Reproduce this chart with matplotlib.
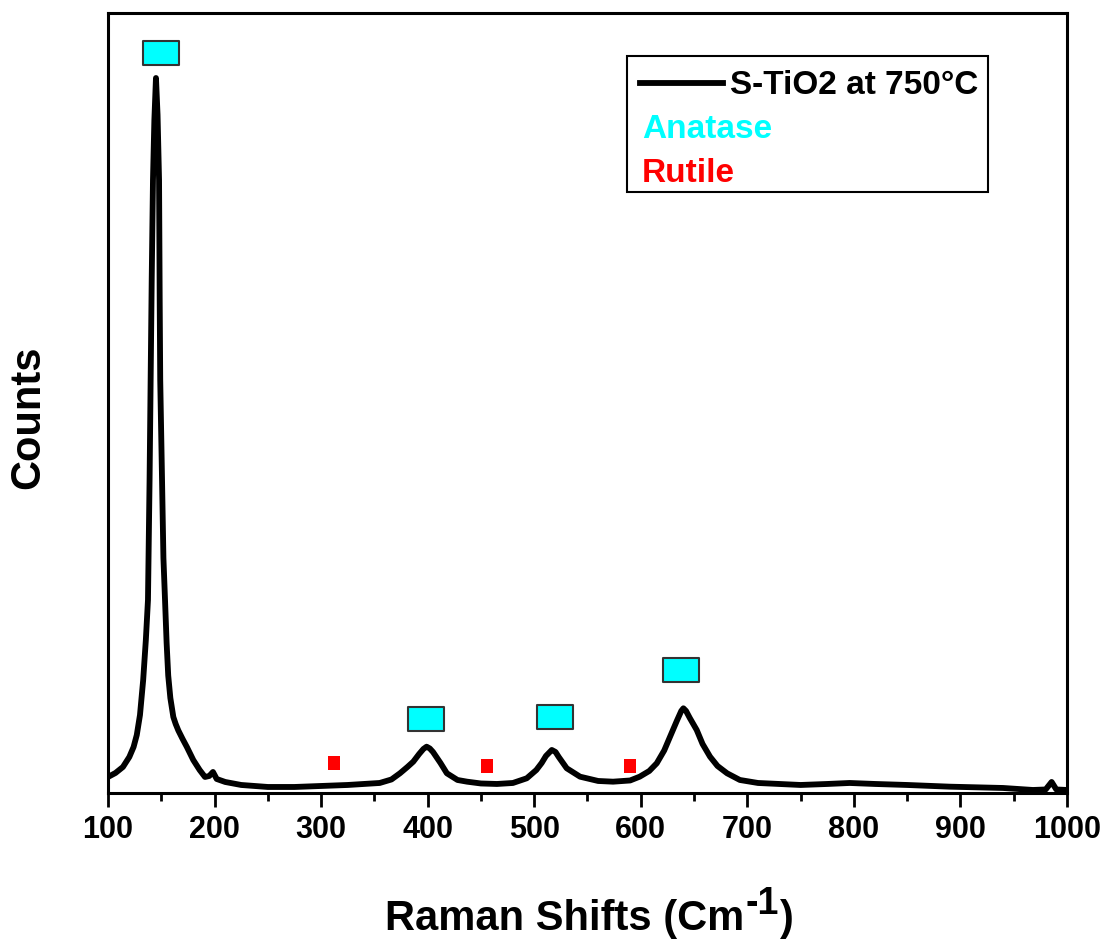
import numpy as np
import matplotlib
matplotlib.use("Agg")
import matplotlib.pyplot as plt
from matplotlib.path import Path
from matplotlib.patches import Rectangle
from matplotlib.ticker import MultipleLocator

plt.rcParams['font.family'] = ['Liberation Sans', 'DejaVu Sans']
plt.rcParams['font.weight'] = 'bold'

# Raman spectrum
shift = [100, 107, 114, 120, 124, 127, 130, 133, 135.5, 137.5, 139, 140, 141, 142.2,
         143.5, 145, 146.5, 147.9, 148.5, 149, 150.7, 152, 153.5, 155, 156.5, 158.5,
         161.3, 163.5, 166, 170, 174, 180, 186, 191, 195, 198.5, 202, 210, 225, 250,
         275, 300, 325, 355, 366, 374, 381, 386.5, 392, 396, 399, 402, 405, 412, 418,
         428, 437, 450, 465, 480, 493, 502, 507, 511, 516.5, 520, 523, 530.5, 543, 560,
         574, 590, 599, 608, 615, 622, 627.5, 634, 638, 640, 642.5, 646, 652.5, 658,
         665, 672, 681, 693, 710, 730, 750, 775, 796, 820, 850, 890, 940, 968, 980,
         985.6, 990, 1000]
counts = [320, 400, 520, 720, 920, 1160, 1560, 2260, 3060, 3860, 6260, 8260, 10260, 12260,
          13460, 14300, 13560, 12260, 9860, 8260, 6260, 4700, 3860, 3000, 2350, 1900,
          1520, 1380, 1250, 1080, 920, 660, 460, 320, 340, 420, 280, 220, 160, 120,
          120, 140, 160, 200, 270, 394, 520, 626, 780, 880, 926, 890, 820, 600, 394,
          260, 226, 190, 180, 200, 294, 460, 600, 740, 860, 820, 720, 494, 326, 240,
          226, 250, 326, 440, 594, 850, 1126, 1450, 1640, 1694, 1640, 1500, 1260, 980,
          726, 540, 394, 260, 200, 180, 160, 180, 200, 180, 160, 126, 100, 60, 70,
          220, 70, 60]

# phase markers
anatase_x = [149.7, 398.6, 519.2, 637.9]
anatase_y = [14800, 1480, 1526, 2460]
rutile_x = [312.3, 456.1, 589.7]
rutile_y = [594, 544, 544]

fig = plt.figure(figsize=(11.09, 9.42), dpi=100)
ax = fig.add_axes([0.0974, 0.1582, 0.8647, 0.828])

ax.plot(shift, counts, color='black', lw=4.2, solid_joinstyle='round', solid_capstyle='round')

rect_marker = Path([(-1, -0.7), (1, -0.7), (1, 0.7), (-1, 0.7), (-1, -0.7)],
                   [Path.MOVETO, Path.LINETO, Path.LINETO, Path.LINETO, Path.CLOSEPOLY])
red_marker = Path([(-0.8, -1), (0.8, -1), (0.8, 1), (-0.8, 1), (-0.8, -1)],
                  [Path.MOVETO, Path.LINETO, Path.LINETO, Path.LINETO, Path.CLOSEPOLY])
ax.plot(anatase_x, anatase_y, ls='none', marker=rect_marker, markersize=25.5,
        markerfacecolor='#00ffff', markeredgecolor='#333333', markeredgewidth=1.5)
ax.plot(rutile_x, rutile_y, ls='none', marker=red_marker, markersize=10.5,
        markerfacecolor='#ff0000', markeredgewidth=0)

ax.set_xlim(100, 1000)
ax.set_ylim(0, 15600)
ax.xaxis.set_major_locator(MultipleLocator(100))
ax.xaxis.set_minor_locator(MultipleLocator(50))
ax.set_yticks([])
ax.tick_params(axis='x', which='major', direction='out', length=10, width=2,
               labelsize=22, pad=6)
ax.tick_params(axis='x', which='minor', direction='out', length=6, width=2)
for lab in ax.get_xticklabels():
    lab.set_fontweight('bold')
for sp in ax.spines.values():
    sp.set_linewidth(2.2)

# legend box drawn by hand
ax.add_patch(Rectangle((0.5412, 0.7705), 0.3764, 0.1744, transform=ax.transAxes,
                       facecolor='white', edgecolor='black', lw=1.5, zorder=5))
ax.plot([0.5547, 0.6413], [0.9103, 0.9103], color='black', lw=4.2,
        transform=ax.transAxes, zorder=6)
ax.text(0.6486, 0.8962, 'S-TiO2 at 750\u00b0C', transform=ax.transAxes, fontsize=24,
        fontweight='bold', va='baseline', ha='left', zorder=6)
ax.text(0.5568, 0.8397, 'Anatase', transform=ax.transAxes, fontsize=24, color='#00ffff',
        fontweight='bold', va='baseline', ha='left', zorder=6)
ax.text(0.5568, 0.7833, 'Rutile', transform=ax.transAxes, fontsize=24, color='#ff0000',
        fontweight='bold', va='baseline', ha='left', zorder=6)

# x label built in pieces so the superscript stays large
t1 = fig.text(0.347, 0.0127, 'Raman Shifts (Cm', fontsize=30, fontweight='bold',
              ha='left', va='baseline')
sup = plt.annotate('-1', xy=(1, 0), xycoords=t1, xytext=(1, 12), textcoords='offset points',
                   fontsize=27, fontweight='bold', ha='left', va='bottom', annotation_clip=False)
plt.annotate(')', xy=(1, 0), xycoords=sup, xytext=(1, -12), textcoords='offset points',
             fontsize=30, fontweight='bold', ha='left', va='bottom', annotation_clip=False)
fig.text(0.0252, 0.557, 'Counts', fontsize=30, fontweight='bold', rotation=90,
         ha='center', va='center')

fig.savefig('out.png', dpi=100)
